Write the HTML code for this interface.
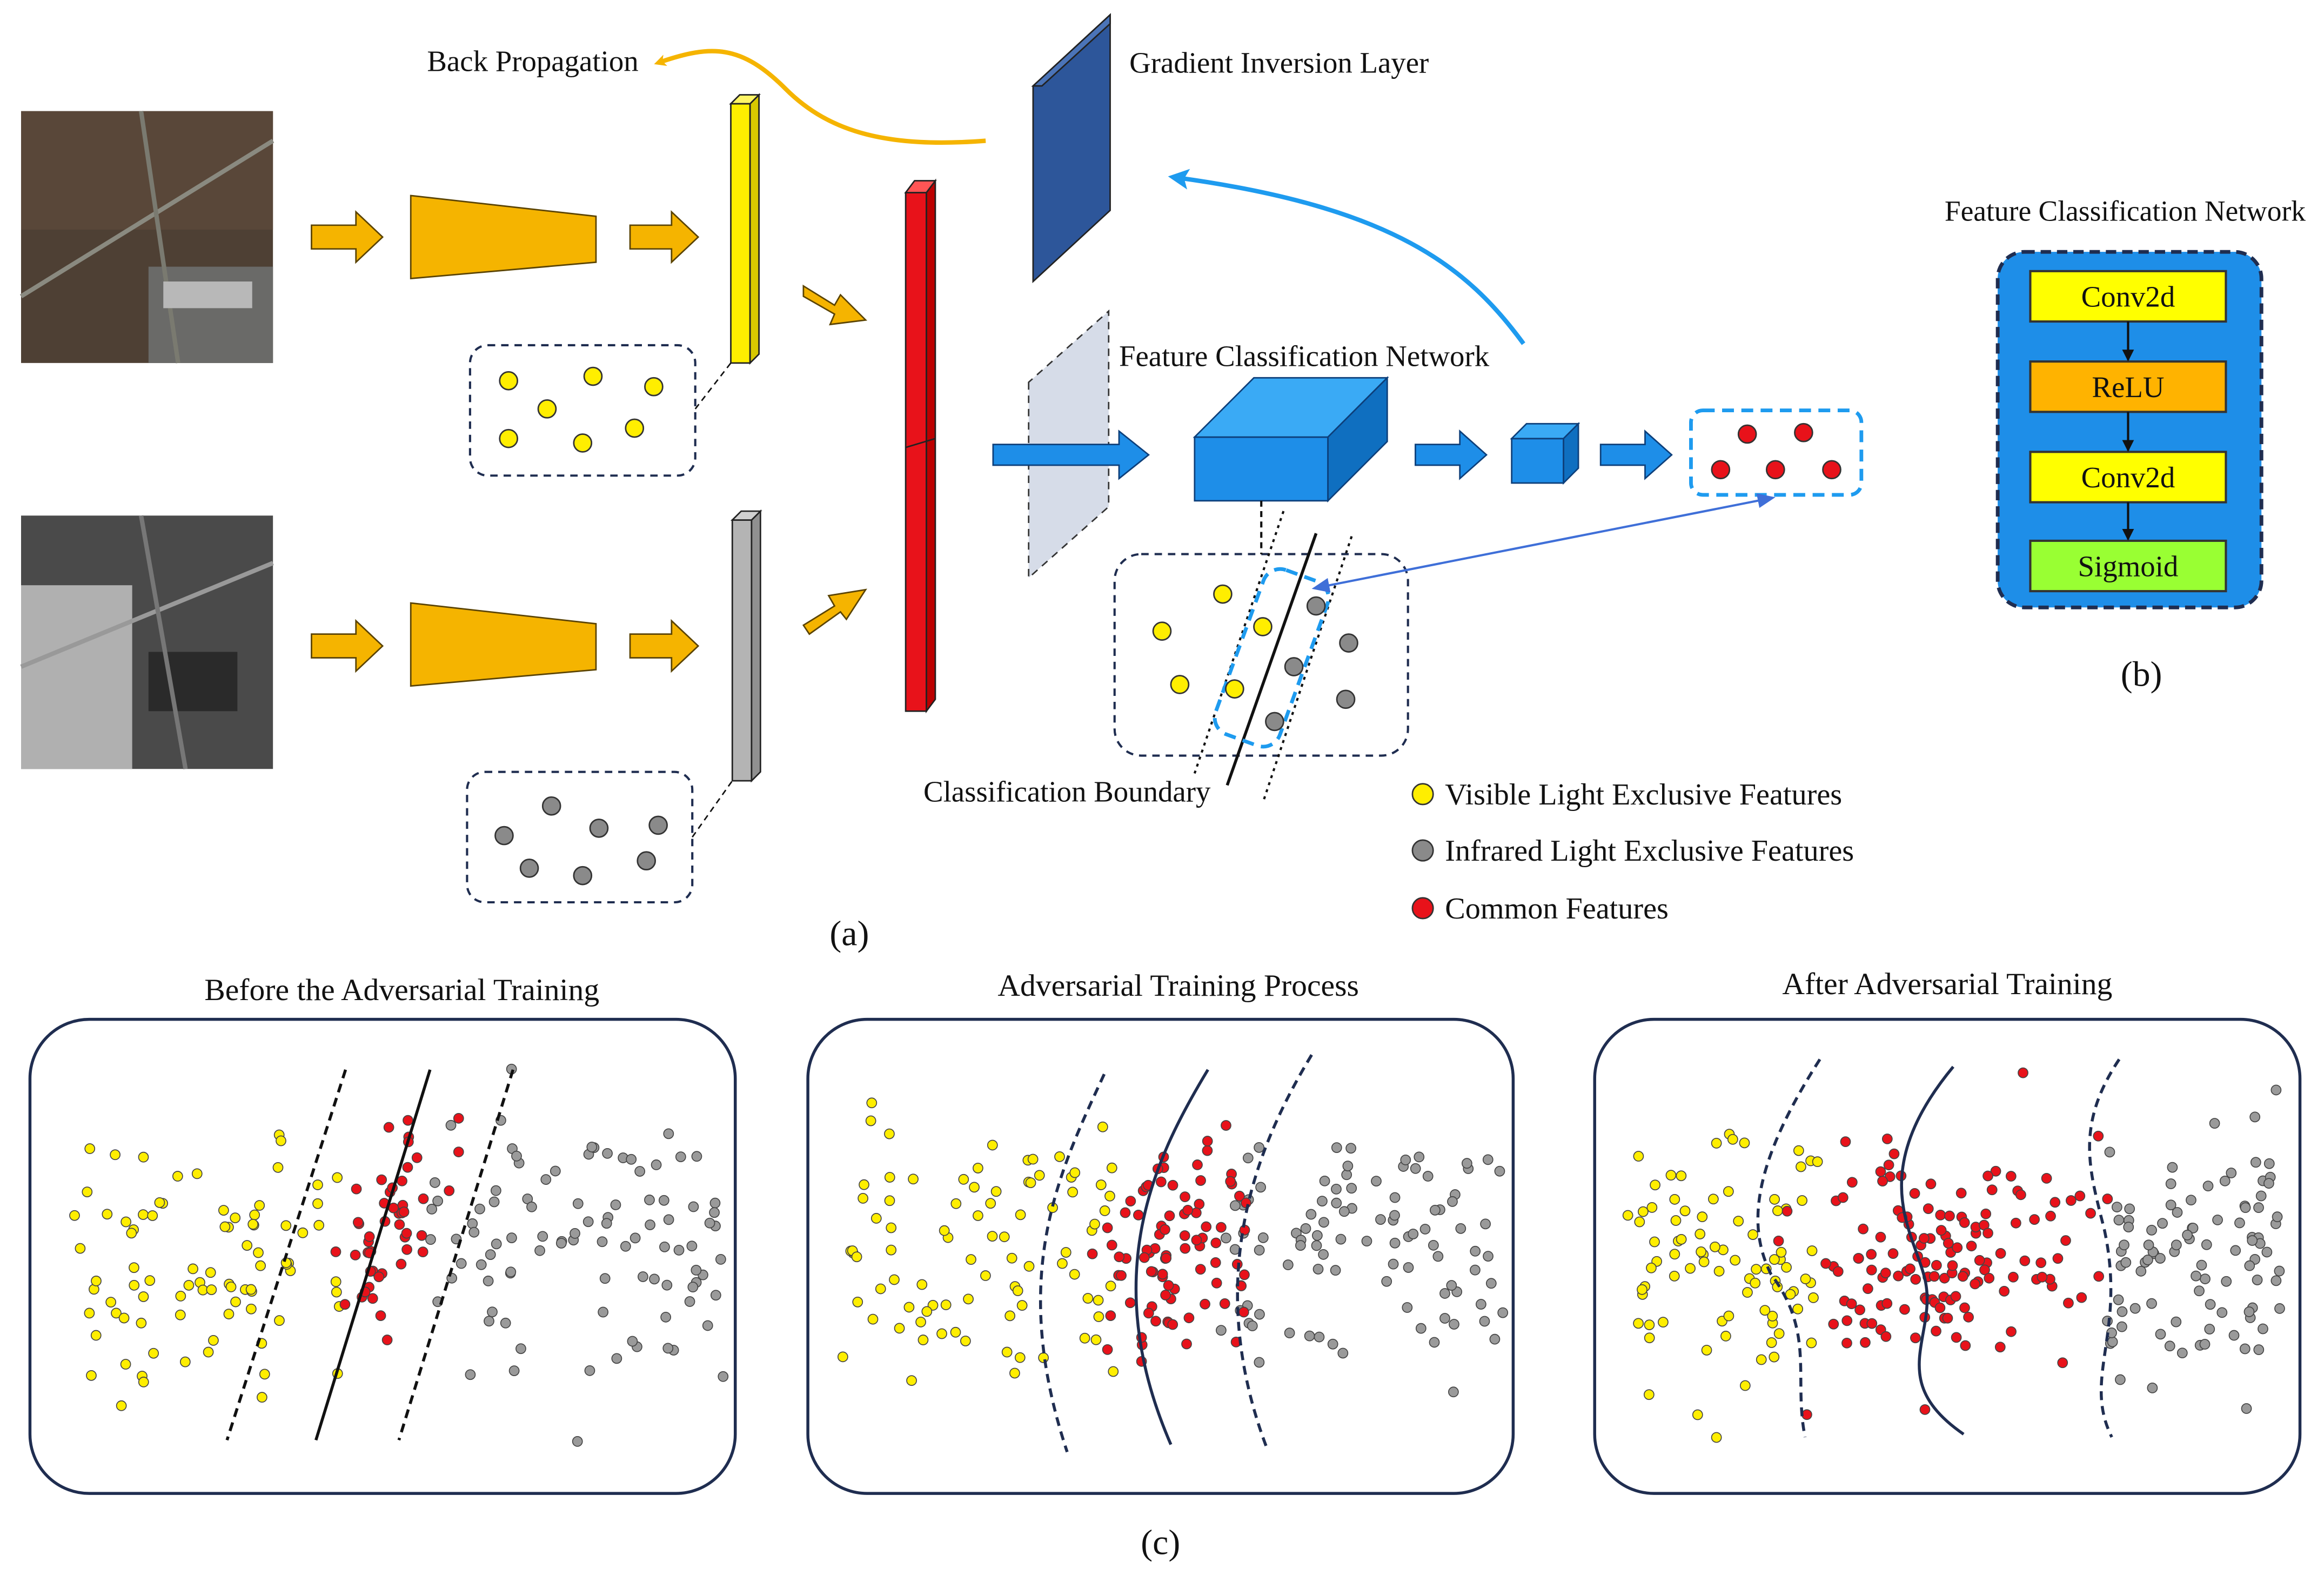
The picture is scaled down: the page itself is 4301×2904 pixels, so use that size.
<!DOCTYPE html>
<html><head><meta charset="utf-8">
<style>
html,body{margin:0;padding:0;background:#fff;}
svg{display:block;}
text{font-family:"Liberation Serif",serif;fill:#111;}
</style></head>
<body>
<svg id="s" width="4301" height="2904" viewBox="0 0 1568 1059" xmlns="http://www.w3.org/2000/svg">
<defs>
<marker id="ao" markerWidth="8" markerHeight="8" refX="4" refY="4" orient="auto" markerUnits="userSpaceOnUse"><path d="M8,4 L0,0 L2,4 L0,8z" fill="#f5b400"/></marker>
<marker id="ab" markerWidth="14" markerHeight="14" refX="7" refY="7" orient="auto" markerUnits="userSpaceOnUse"><path d="M14,7 L0,0 L3,7 L0,14z" fill="#1e9bef"/></marker>
<marker id="at" markerWidth="12" markerHeight="12" refX="10" refY="6" orient="auto" markerUnits="userSpaceOnUse"><path d="M12,6 L0,1 L0,11z" fill="#3f6fd8"/></marker>
<marker id="at2" markerWidth="12" markerHeight="12" refX="2" refY="6" orient="auto" markerUnits="userSpaceOnUse"><path d="M0,6 L12,1 L12,11z" fill="#3f6fd8"/></marker>
<marker id="ak" markerWidth="8" markerHeight="8" refX="7" refY="4" orient="auto" markerUnits="userSpaceOnUse"><path d="M8,4 L0,0 L0,8z" fill="#111"/></marker>
</defs>

<!-- photos -->
<rect x="14" y="75" width="170" height="170" fill="#4e4034"/>
<rect x="14" y="75" width="170" height="80" fill="#5e4a3c" opacity="0.7"/>
<rect x="100" y="180" width="84" height="65" fill="#6a6a68"/>
<line x1="14" y1="200" x2="184" y2="95" stroke="#8a8a80" stroke-width="3"/>
<line x1="95" y1="75" x2="120" y2="245" stroke="#7a7a70" stroke-width="3"/>
<rect x="110" y="190" width="60" height="18" fill="#b8b8b8"/>
<rect x="14" y="348" width="170" height="171" fill="#4a4a4a"/>
<rect x="14" y="395" width="75" height="124" fill="#b0b0b0"/>
<rect x="100" y="440" width="60" height="40" fill="#2a2a2a"/>
<line x1="14" y1="450" x2="184" y2="380" stroke="#999" stroke-width="3"/>
<line x1="95" y1="348" x2="125" y2="519" stroke="#777" stroke-width="3"/>

<!-- orange block arrows -->
<g fill="#f5b400" stroke="#5a4300" stroke-width="1">
<path d="M210,152 L240,152 L240,143 L258,160 L240,177 L240,168 L210,168z"/>
<path d="M425,152 L453,152 L453,143 L471,160 L453,177 L453,168 L425,168z"/>
<path d="M210,428 L240,428 L240,419 L258,436 L240,453 L240,444 L210,444z"/>
<path d="M425,428 L453,428 L453,419 L471,436 L453,453 L453,444 L425,444z"/>
<path d="M277,132 L402,146 L402,177 L277,188z"/>
<path d="M277,407 L402,421 L402,452 L277,463z"/>
<path d="M542,193 L563,206 L567,199 L584,216 L560,219 L563,212 L542,200z"/>
<path d="M542,422 L563,409 L559,402 L584,398 L571,418 L567,413 L546,428z"/>
</g>

<!-- bars -->
<g stroke="#222" stroke-width="1">
<path d="M493,70 L506,70 L506,245 L493,245z" fill="#ffee00"/>
<path d="M506,70 L512,64 L512,239 L506,245z" fill="#d8c800"/>
<path d="M493,70 L499,64 L512,64 L506,70z" fill="#fff566"/>
<path d="M494,351 L507,351 L507,527 L494,527z" fill="#b4b4b4"/>
<path d="M507,351 L513,345 L513,521 L507,527z" fill="#909090"/>
<path d="M494,351 L500,345 L513,345 L507,351z" fill="#d0d0d0"/>
<path d="M611,130 L625,130 L625,480 L611,480z" fill="#e8121a"/>
<path d="M625,130 L631,122 L631,472 L625,480z" fill="#b00"/>
<path d="M611,130 L617,122 L631,122 L625,130z" fill="#f55"/>
<line x1="611" y1="302" x2="631" y2="296"/>
<path d="M697,58 L697,190 L749,142 L749,10z" fill="#2d569a"/>
<path d="M697,58 L703,58 L749,16 L749,10z" fill="#4b74b8"/>
</g>
<path d="M694,258 L694,390 L748,342 L748,210z" fill="#d6dce8" stroke="#333" stroke-dasharray="5,4"/>
<!-- dashed boxes -->
<rect x="317" y="233" width="152" height="88" rx="12" fill="none" stroke="#1f2d50" stroke-width="1.5" stroke-dasharray="5,4"/>
<rect x="315" y="521" width="152" height="88" rx="12" fill="none" stroke="#1f2d50" stroke-width="1.5" stroke-dasharray="5,4"/>
<line x1="469" y1="276" x2="493" y2="245" stroke="#111" stroke-dasharray="4,3"/>
<line x1="467" y1="565" x2="494" y2="527" stroke="#111" stroke-dasharray="4,3"/>
<g stroke="#333" stroke-width="1" fill="#ffee00">
<circle cx="343" cy="257" r="6"/><circle cx="400" cy="254" r="6"/><circle cx="441" cy="261" r="6"/><circle cx="369" cy="276" r="6"/><circle cx="428" cy="289" r="6"/><circle cx="343" cy="296" r="6"/><circle cx="393" cy="299" r="6"/>
</g>
<g stroke="#333" stroke-width="1" fill="#8a8a8a">
<circle cx="372" cy="544" r="6"/><circle cx="340" cy="564" r="6"/><circle cx="404" cy="559" r="6"/><circle cx="444" cy="557" r="6"/><circle cx="357" cy="586" r="6"/><circle cx="393" cy="591" r="6"/><circle cx="436" cy="581" r="6"/>
</g>

<!-- curves -->
<path d="M665,95 C600,100 560,90 530,60 C500,30 480,30 445,42" fill="none" stroke="#f5b400" stroke-width="3" marker-end="url(#ao)"/>
<path d="M1028,232 C990,180 940,140 795,120" fill="none" stroke="#1e9bef" stroke-width="3" marker-end="url(#ab)"/>
<text x="288" y="48" font-size="20">Back Propagation</text>
<text x="762" y="49" font-size="20">Gradient Inversion Layer</text>

<!-- blue arrows -->
<g fill="#1e8ee8" stroke="#0d3f7a" stroke-width="1">
<path d="M670,300 L755,300 L755,291 L775,307 L755,323 L755,314 L670,314z"/>
<path d="M955,300 L985,300 L985,291 L1003,307 L985,323 L985,314 L955,314z"/>
<path d="M1080,300 L1110,300 L1110,291 L1128,307 L1110,323 L1110,314 L1080,314z"/>
<path d="M806,295 L896,295 L896,338 L806,338z"/>
<path d="M806,295 L846,255 L936,255 L896,295z" fill="#3aaaf5"/>
<path d="M896,295 L936,255 L936,298 L896,338z" fill="#0f6fc0"/>
<path d="M1020,296 L1055,296 L1055,326 L1020,326z"/>
<path d="M1020,296 L1030,286 L1065,286 L1055,296z" fill="#3aaaf5"/>
<path d="M1055,296 L1065,286 L1065,316 L1055,326z" fill="#0f6fc0"/>
</g>
<text x="755" y="247" font-size="20">Feature Classification Network</text>
<rect x="1141" y="277" width="115" height="57" rx="8" fill="none" stroke="#1e9bef" stroke-width="2.5" stroke-dasharray="8,5"/>
<g stroke="#333" fill="#e8121a"><circle cx="1179" cy="293" r="6"/><circle cx="1217" cy="292" r="6"/><circle cx="1161" cy="317" r="6"/><circle cx="1198" cy="317" r="6"/><circle cx="1236" cy="317" r="6"/></g>

<!-- classification box -->
<rect x="752" y="374" width="198" height="136" rx="18" fill="none" stroke="#1f2d50" stroke-width="1.5" stroke-dasharray="5,4"/>
<line x1="851" y1="338" x2="851" y2="374" stroke="#111" stroke-width="1.5" stroke-dasharray="4,3"/>
<line x1="888" y1="360" x2="828" y2="530" stroke="#111" stroke-width="2"/>
<line x1="866" y1="345" x2="806" y2="522" stroke="#111" stroke-width="1.5" stroke-dasharray="2,3"/>
<line x1="912" y1="362" x2="852" y2="542" stroke="#111" stroke-width="1.5" stroke-dasharray="2,3"/>
<rect x="835" y="385" width="46" height="118" rx="12" transform="rotate(20 858 444)" fill="none" stroke="#1e9bef" stroke-width="2.5" stroke-dasharray="8,5"/>
<line x1="887" y1="397" x2="1196" y2="336" stroke="#3f6fd8" stroke-width="1.5" marker-end="url(#at)" marker-start="url(#at2)"/>
<g stroke="#333" fill="#ffee00"><circle cx="825" cy="401" r="6"/><circle cx="784" cy="426" r="6"/><circle cx="852" cy="423" r="6"/><circle cx="796" cy="462" r="6"/><circle cx="833" cy="465" r="6"/></g>
<g stroke="#333" fill="#8a8a8a"><circle cx="888" cy="409" r="6"/><circle cx="910" cy="434" r="6"/><circle cx="873" cy="450" r="6"/><circle cx="908" cy="472" r="6"/><circle cx="860" cy="487" r="6"/></g>
<text x="623" y="541" font-size="20">Classification Boundary</text>
<circle cx="960" cy="536" r="7" fill="#ffee00" stroke="#333"/><text x="975" y="543" font-size="20.5">Visible Light Exclusive Features</text>
<circle cx="960" cy="574" r="7" fill="#8a8a8a" stroke="#333"/><text x="975" y="581" font-size="20.5">Infrared Light Exclusive Features</text>
<circle cx="960" cy="613" r="7" fill="#e8121a" stroke="#333"/><text x="975" y="620" font-size="20.5">Common Features</text>
<text x="573" y="638" font-size="24" text-anchor="middle">(a)</text>

<!-- (b) -->
<text x="1434" y="149" font-size="19.5" text-anchor="middle">Feature Classification Network</text>
<rect x="1348" y="170" width="178" height="240" rx="18" fill="#1e8ee8" stroke="#1f2d50" stroke-width="2.5" stroke-dasharray="7,4"/>
<g stroke="#333" stroke-width="1.5">
<rect x="1370" y="183" width="132" height="34" fill="#ffff00"/>
<rect x="1370" y="244" width="132" height="34" fill="#ffb300"/>
<rect x="1370" y="305" width="132" height="34" fill="#ffff00"/>
<rect x="1370" y="365" width="132" height="34" fill="#99ff33"/>
</g>
<g stroke="#111" stroke-width="1.5">
<line x1="1436" y1="217" x2="1436" y2="243" marker-end="url(#ak)"/>
<line x1="1436" y1="278" x2="1436" y2="304" marker-end="url(#ak)"/>
<line x1="1436" y1="339" x2="1436" y2="364" marker-end="url(#ak)"/>
</g>
<g font-size="20" text-anchor="middle">
<text x="1436" y="207">Conv2d</text><text x="1436" y="268">ReLU</text><text x="1436" y="329">Conv2d</text><text x="1436" y="389">Sigmoid</text>
</g>
<text x="1445" y="463" font-size="24" text-anchor="middle">(b)</text>

<!-- (c) -->
<text x="271" y="675" font-size="21" text-anchor="middle">Before the Adversarial Training</text>
<text x="795" y="672" font-size="21" text-anchor="middle">Adversarial Training Process</text>
<text x="1314" y="671" font-size="21" text-anchor="middle">After Adversarial Training</text>
<g fill="none" stroke="#1f2d50" stroke-width="2">
<rect x="20" y="688" width="476" height="320" rx="40"/>
<rect x="545" y="688" width="476" height="320" rx="40"/>
<rect x="1076" y="688" width="476" height="320" rx="40"/>
</g>
<g id="pts"></g>
<g fill="none" stroke="#111" stroke-width="2">
<line x1="233" y1="722" x2="153" y2="972" stroke-dasharray="6,4"/>
<line x1="290" y1="722" x2="213" y2="972"/>
<line x1="346" y1="722" x2="269" y2="972" stroke-dasharray="6,4"/>
</g>
<g fill="none" stroke="#1f2d50" stroke-width="2">
<path d="M745,725 C715,790 680,860 720,980" stroke-dasharray="6,4"/>
<path d="M815,722 C780,780 740,860 790,975"/>
<path d="M885,712 C850,770 810,860 855,978" stroke-dasharray="6,4"/>
<path d="M1228,715 C1180,790 1180,830 1195,860 C1225,900 1210,930 1218,970" stroke-dasharray="6,4"/>
<path d="M1318,720 C1260,790 1290,830 1298,860 C1310,900 1270,930 1325,968"/>
<path d="M1430,715 C1400,760 1410,790 1420,830 C1435,900 1405,930 1425,970" stroke-dasharray="6,4"/>
</g>
<text x="783" y="1049" font-size="24" text-anchor="middle">(c)</text>
</svg>
<script>
(function(){
var s=12345;function r(){s=(s*1103515245+12345)%2147483648;return s/2147483648;}
function g(){return (r()+r()-1);}
var ns="http://www.w3.org/2000/svg",G=document.getElementById("pts");
function add(x,y,c){var e=document.createElementNS(ns,"circle");e.setAttribute("cx",x.toFixed(1));e.setAttribute("cy",y.toFixed(1));e.setAttribute("r","3.3");e.setAttribute("fill",c);e.setAttribute("stroke","#444");e.setAttribute("stroke-width","0.6");G.appendChild(e);}
var panels=[0,1,2],oxs=[20,545,1076];
panels.forEach(function(k){
 var ox=oxs[k];
 var yw=k==0?[100,150]:[90,140];
 for(var i=0;i<85;i++){add(ox+22+r()*(k==2?130:190),850+g()*(r()<0.8?yw[0]:yw[1]),"#ffee00");}
 for(var i=0;i<95;i++){add(ox+(k==2?345:270)+r()*(k==2?120:200),840+g()*(r()<0.8?yw[0]:yw[1]),"#9a9a9a");}
 if(k==0){for(var i=0;i<50;i++){var y=830+g()*80;add(ox+240-(y-847)*0.31+g()*38,y,"#e8121a");}}
 if(k==1){for(var i=0;i<85;i++){var y=840+g()*90;add(ox+245+g()*60+ (Math.abs(y-850)*0.15),y,"#e8121a");}}
 if(k==2){for(var i=0;i<140;i++){var y=845+g()*(r()<0.85?90:140);add(ox+235+g()*120,y,"#e8121a");}}
});
})();
</script>
</body></html>
